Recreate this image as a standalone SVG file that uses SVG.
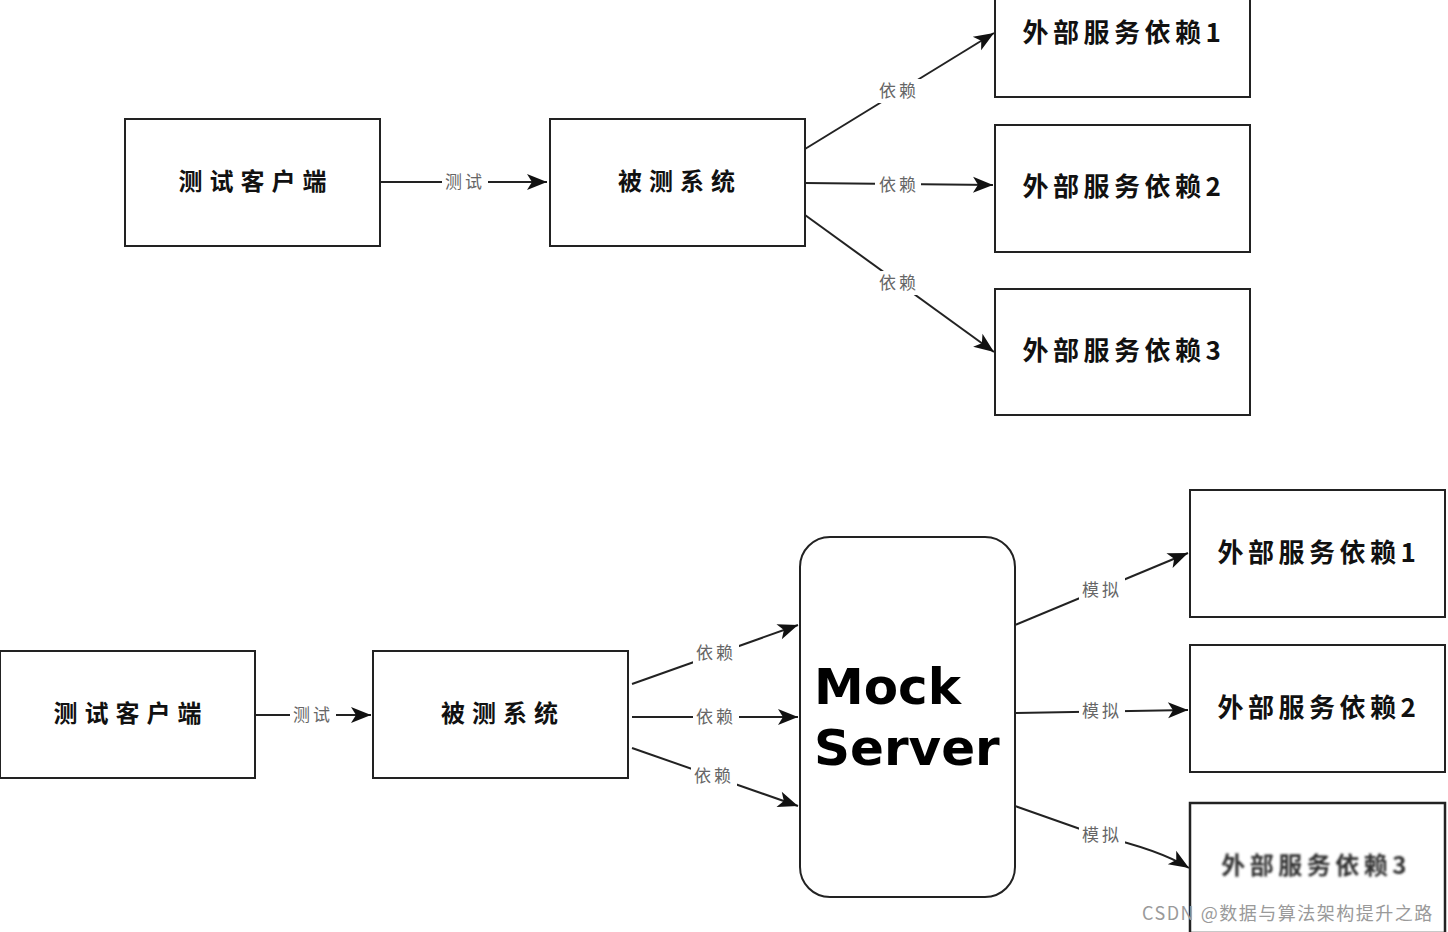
<svg xmlns="http://www.w3.org/2000/svg" width="1448" height="932" viewBox="0 0 1448 932">
<style>
.box{fill:#fff;stroke:#222;stroke-width:2}
.nt{font-family:"Noto Sans CJK SC","Liberation Serif",serif;font-weight:bold;font-size:24px;fill:#111;letter-spacing:7px}
.ext{font-family:"Noto Sans CJK SC","Liberation Serif",serif;font-weight:bold;font-size:26px;fill:#111;letter-spacing:4.5px}
.ln{fill:none;stroke:#222;stroke-width:2}
.lb{font-family:"Noto Sans CJK SC","Liberation Serif",serif;font-size:17px;fill:#666;letter-spacing:3px}
.lbg{fill:#fff}
.mock{font-family:"DejaVu Sans","Liberation Sans",sans-serif;font-weight:bold;font-size:50px;fill:#000}
.wm{font-family:"Noto Sans CJK SC","Liberation Sans",sans-serif;font-size:18px;fill:#9a9a9a;letter-spacing:1.5px}
</style>
<defs>
<marker id="arr" viewBox="0 0 10 10" refX="10" refY="5" markerWidth="10" markerHeight="10" markerUnits="userSpaceOnUse" orient="auto" style="overflow:visible">
<path d="M-10,-3 L10,5 L-10,13 L-5,5 z" fill="#111"/>
</marker>
<filter id="blur"><feGaussianBlur stdDeviation="1.3"/></filter>
</defs>
<rect width="1448" height="932" fill="#fff"/>

<g id="connectors">
<!-- top -->
<path class="ln" d="M380,182 L547,182" marker-end="url(#arr)"/>
<rect class="lbg" x="442" y="171" width="46" height="22"/>
<text class="lb" x="465" y="188" text-anchor="middle">测试</text>

<path class="ln" d="M805,149 L994,33" marker-end="url(#arr)"/>
<rect class="lbg" x="875" y="79" width="46" height="24"/>
<text class="lb" x="899" y="97" text-anchor="middle">依赖</text>

<path class="ln" d="M805,183 L993,185" marker-end="url(#arr)"/>
<rect class="lbg" x="875" y="173" width="46" height="24"/>
<text class="lb" x="899" y="191" text-anchor="middle">依赖</text>

<path class="ln" d="M805,215 L994,352" marker-end="url(#arr)"/>
<rect class="lbg" x="875" y="271" width="46" height="24"/>
<text class="lb" x="899" y="289" text-anchor="middle">依赖</text>

<!-- bottom -->
<path class="ln" d="M255,715 L371,715" marker-end="url(#arr)"/>
<rect class="lbg" x="290" y="704" width="46" height="22"/>
<text class="lb" x="313" y="721" text-anchor="middle">测试</text>

<path class="ln" d="M632,684 L798,625" marker-end="url(#arr)"/>
<rect class="lbg" x="693" y="641" width="46" height="24"/>
<text class="lb" x="716" y="659" text-anchor="middle">依赖</text>

<path class="ln" d="M632,717 L798,717" marker-end="url(#arr)"/>
<rect class="lbg" x="693" y="705" width="46" height="24"/>
<text class="lb" x="716" y="723" text-anchor="middle">依赖</text>

<path class="ln" d="M632,748 L798,806" marker-end="url(#arr)"/>
<rect class="lbg" x="691" y="764" width="46" height="24"/>
<text class="lb" x="714" y="782" text-anchor="middle">依赖</text>

<path class="ln" d="M1015,625 L1188,553" marker-end="url(#arr)"/>
<rect class="lbg" x="1079" y="578" width="46" height="24"/>
<text class="lb" x="1102" y="596" text-anchor="middle">模拟</text>

<path class="ln" d="M1015,713 L1188,710" marker-end="url(#arr)"/>
<rect class="lbg" x="1079" y="699" width="46" height="24"/>
<text class="lb" x="1102" y="717" text-anchor="middle">模拟</text>

<path class="ln" d="M1015,806 L1100,836 Q1160,850 1189,868" marker-end="url(#arr)"/>
<rect class="lbg" x="1079" y="823" width="46" height="24"/>
<text class="lb" x="1102" y="841" text-anchor="middle">模拟</text>
</g>

<!-- top row nodes -->
<g id="top-client">
<rect class="box" x="125" y="119" width="255" height="127"/>
<text class="nt" x="256" y="190" text-anchor="middle">测试客户端</text>
</g>
<g id="top-sut">
<rect class="box" x="550" y="119" width="255" height="127"/>
<text class="nt" x="680" y="190" text-anchor="middle">被测系统</text>
</g>
<g id="top-ext1">
<rect class="box" x="995" y="-30" width="255" height="127"/>
<text class="ext" x="1124" y="42" text-anchor="middle">外部服务依赖1</text>
</g>
<g id="top-ext2">
<rect class="box" x="995" y="125" width="255" height="127"/>
<text class="ext" x="1124" y="196" text-anchor="middle">外部服务依赖2</text>
</g>
<g id="top-ext3">
<rect class="box" x="995" y="289" width="255" height="126"/>
<text class="ext" x="1124" y="360" text-anchor="middle">外部服务依赖3</text>
</g>

<!-- bottom row nodes -->
<g id="bot-client">
<rect class="box" x="0" y="651" width="255" height="127"/>
<text class="nt" x="131" y="722" text-anchor="middle">测试客户端</text>
</g>
<g id="bot-sut">
<rect class="box" x="373" y="651" width="255" height="127"/>
<text class="nt" x="503" y="722" text-anchor="middle">被测系统</text>
</g>
<g id="mock-server">
<rect class="box" x="800" y="537" width="215" height="360" rx="30" ry="30"/>
<text class="mock" x="814" y="704">Mock</text>
<text class="mock" x="814" y="765">Server</text>
</g>
<g id="bot-ext1">
<rect class="box" x="1190" y="490" width="255" height="127"/>
<text class="ext" x="1319" y="562" text-anchor="middle">外部服务依赖1</text>
</g>
<g id="bot-ext2">
<rect class="box" x="1190" y="645" width="255" height="127"/>
<text class="ext" x="1319" y="717" text-anchor="middle">外部服务依赖2</text>
</g>
<g id="bot-ext3">
<rect class="box" x="1190" y="803" width="255" height="130" style="stroke-width:2.5"/>
<text class="ext" x="1316" y="874" text-anchor="middle" filter="url(#blur)" style="font-size:24px;fill:#333">外部服务依赖3</text>
</g>

<text class="wm" x="1142" y="920">CSDN @数据与算法架构提升之路</text>
</svg>
